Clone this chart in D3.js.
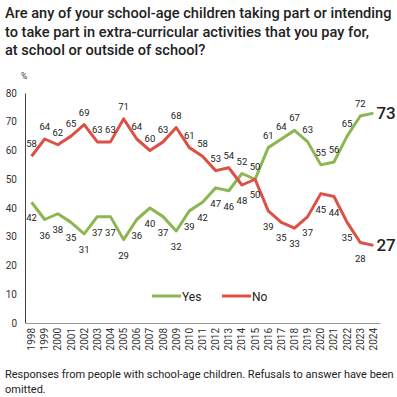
<!DOCTYPE html>
<html>
<head>
<meta charset="utf-8">
<script src="https://cdn.jsdelivr.net/npm/d3@7"></script>
<style>
  body { margin: 0; background: #fff; }
  svg { font-family: Roboto, "Liberation Sans", sans-serif; }
</style>
</head>
<body>
<svg id="chart" width="397" height="397"></svg>
<script>
// data
const years = d3.range(1998, 2025).map(String);
const yesValues = [42, 36, 38, 35, 31, 37, 37, 29, 36, 40, 37, 32, 39, 42, 47, 46, 52, 50, 61, 64, 67, 63, 55, 56, 65, 72, 73];
const noValues = [58, 64, 62, 65, 69, 63, 63, 71, 64, 60, 63, 68, 61, 58, 53, 54, 48, 50, 39, 35, 33, 37, 45, 44, 35, 28, 27];
const yTicks = [0, 10, 20, 30, 40, 50, 60, 70, 80];
const titleLines = [
    'Are any of your school-age children taking part or intending',
    'to take part in extra-curricular activities that you pay for,',
    'at school or outside of school?'
];
const noteLines = [
    'Responses from people with school-age children. Refusals to answer have been',
    'omitted.'
];

const green = '#8db653', red = '#dc5145';

let svg = d3.select('#chart');

// 标题
svg.append('g').selectAll('text')
    .data(titleLines)
    .enter().append('text')
    .attr('x', 5)
    .attr('y', (d, i) => 18 + i * 18.5)
    .attr('font-size', 14.6)
    .attr('font-weight', 500)
    .attr('fill', '#222')
    .text(d => d);

// 比例尺
let x = d3.scaleBand().domain(years).range([25, 380]);
let y = d3.scaleLinear().domain([0, 80]).range([323, 93]);
let cx = d => x(d) + x.bandwidth() / 2;

// y 轴
let yAxis = d3.axisLeft(y).tickValues(yTicks).tickSize(0).tickPadding(8);
let gy = svg.append('g').attr('transform', 'translate(25,0)').call(yAxis);
gy.select('.domain').attr('stroke', '#444');
gy.selectAll('text').attr('font-size', 10).attr('fill', '#333').attr('font-family', 'Roboto, sans-serif');

svg.append('text').attr('x', 24).attr('y', 79)
    .attr('font-size', 8.5).attr('fill', '#333').attr('text-anchor', 'middle').text('%');

// x 轴
let xAxis = d3.axisBottom(x).tickSize(0);
let gx = svg.append('g').attr('transform', 'translate(0,323)').call(xAxis);
gx.select('.domain').attr('stroke', '#999');
gx.selectAll('text')
    .attr('font-size', 10).attr('fill', '#333').attr('font-family', 'Roboto, sans-serif')
    .attr('text-anchor', 'end')
    .attr('x', -5)
    .attr('y', 0)
    .attr('dy', '0.35em')
    .attr('transform', 'rotate(-90)');

// 折线
let line = d3.line().x((d, i) => cx(years[i])).y(d => y(d));
[[yesValues, green], [noValues, red]].forEach(([vals, col]) => {
    svg.append('path')
        .datum(vals)
        .attr('fill', 'none')
        .attr('stroke', col)
        .attr('stroke-width', 3)
        .attr('stroke-linejoin', 'round')
        .attr('d', line);
});

// 数值标签
function addLabels(vals, other, isYes) {
    let last = vals.length - 1;
    svg.append('g').selectAll('text')
        .data(vals)
        .enter().append('text')
        .attr('x', (d, i) => i === last ? cx(years[i]) + 3 : cx(years[i]))
        .attr('y', function (d, i) {
            if (i === last) return y(d) + 6;
            let above = d > other[i] || (d === other[i] && isYes);
            return above ? y(d) - 9 : y(d) + 19;
        })
        .attr('text-anchor', (d, i) => i === last ? 'start' : 'middle')
        .attr('font-size', (d, i) => i === last ? 17 : 9.5)
        .attr('font-weight', (d, i) => i === last ? 500 : 400)
        .attr('fill', '#222')
        .text(d => d);
}
addLabels(yesValues, noValues, true);
addLabels(noValues, yesValues, false);

// 图例
let legend = svg.append('g').attr('transform', 'translate(152,296)');
[['Yes', green, 0], ['No', red, 70]].forEach(([name, col, dx]) => {
    legend.append('line').attr('x1', dx).attr('x2', dx + 29).attr('y1', 0).attr('y2', 0)
        .attr('stroke', col).attr('stroke-width', 3);
    legend.append('text').attr('x', dx + 30).attr('y', 4.5)
        .attr('font-size', 12).attr('fill', '#222').text(name);
});

// 注释
svg.append('g').selectAll('text')
    .data(noteLines)
    .enter().append('text')
    .attr('x', 5)
    .attr('y', (d, i) => 378 + i * 15)
    .attr('font-size', 11)
    .attr('fill', '#222')
    .text(d => d);
</script>
</body>
</html>
